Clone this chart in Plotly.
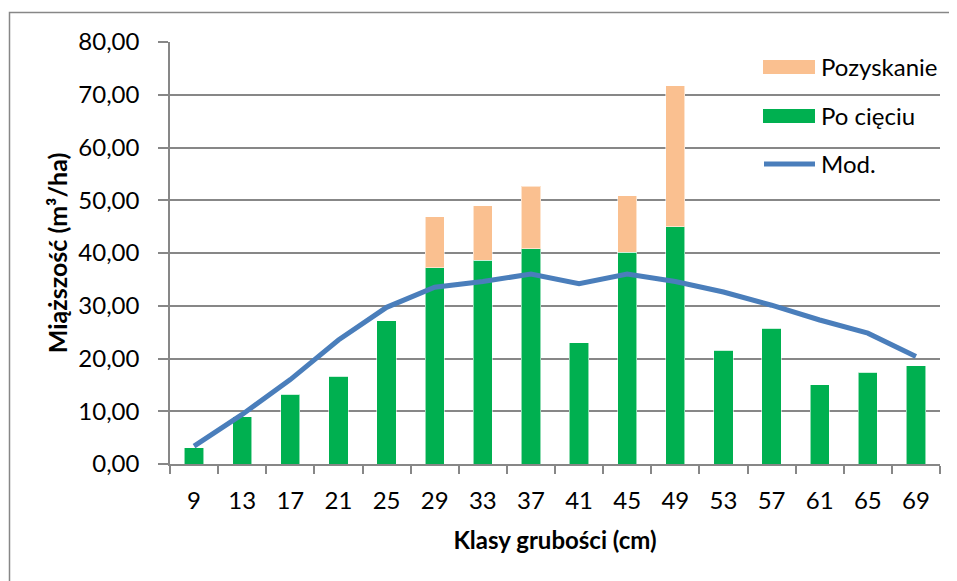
import plotly.graph_objects as go

categories = ["9", "13", "17", "21", "25", "29", "33", "37", "41", "45", "49", "53", "57", "61", "65", "69"]
po_cieciu = [3.07, 9.0, 13.25, 16.6, 27.2, 37.2, 38.6, 40.8, 23.0, 40.1, 45.0, 21.6, 25.7, 15.0, 17.4, 18.6]
pozyskanie = [0, 0, 0, 0, 0, 9.7, 10.4, 11.9, 0, 10.8, 26.7, 0, 0, 0, 0, 0]
mod = [3.4, 9.4, 16.0, 23.5, 29.7, 33.5, 34.6, 36.0, 34.2, 36.0, 34.6, 32.6, 30.1, 27.3, 24.8, 20.4]
y_ticks = [0, 10, 20, 30, 40, 50, 60, 70, 80]

names = ["Pozyskanie", "Po cięciu", "Mod."]
GREEN = "#00b050"
ORANGE = "#fac090"
BLUE = "#4a7ebb"
GRID = "#878787"
FONT = "Lato"

fig = go.Figure()
fig.add_bar(x=categories, y=po_cieciu, name=names[1], marker=dict(color=GREEN, line=dict(color="rgba(255,255,255,0.55)", width=1)), showlegend=False)
fig.add_bar(x=categories, y=pozyskanie, name=names[0], marker=dict(color=ORANGE, line=dict(color="rgba(255,255,255,0.55)", width=1)), showlegend=False)
fig.add_scatter(x=categories, y=mod, name=names[2], mode="lines", line=dict(color=BLUE, width=5), showlegend=False)

# page body has an 8px margin, so the figure is placed at (8, 8)
OFF = 8
W, H = 957 - OFF, 581 - OFF
L, R, T, B = 170 - OFF, 957 - 940, 42 - OFF, 581 - 464.3
pw, ph = W - L - R, H - T - B

def px(x):
    return (x - OFF - L) / pw

def py(y):
    return (H - B - (y - OFF)) / ph

shapes = [
    # outer chart border
    dict(type="rect", xref="paper", yref="paper", x0=px(9.5), x1=px(990), y0=py(12.5), y1=py(620),
         line=dict(color=GRID, width=1.5), fillcolor="rgba(0,0,0,0)", layer="below"),
    # legend swatches
    dict(type="rect", xref="paper", yref="paper", x0=px(763), x1=px(815), y0=py(74), y1=py(60),
         fillcolor=ORANGE, line=dict(width=0)),
    dict(type="rect", xref="paper", yref="paper", x0=px(763), x1=px(815), y0=py(123), y1=py(109),
         fillcolor=GREEN, line=dict(width=0)),
    dict(type="line", xref="paper", yref="paper", x0=px(764), x1=px(815), y0=py(164), y1=py(164),
         line=dict(color=BLUE, width=5)),
]
annotations = []
for name, yy in zip(names, [67, 116, 164]):
    annotations.append(dict(xref="paper", yref="paper", x=px(819), y=py(yy), text=name, showarrow=False,
                            xanchor="left", yanchor="middle", font=dict(family=FONT, size=24, color="black")))

fig.update_layout(
    width=W, height=H,
    margin=dict(l=L, r=R, t=T, b=B),
    barmode="stack",
    bargap=0.6,
    paper_bgcolor="white",
    plot_bgcolor="white",
    separators=", ",
    font=dict(family=FONT, size=24, color="black"),
    shapes=shapes,
    annotations=annotations,
    showlegend=False,
)
fig.update_xaxes(
    type="category",
    tickson="boundaries",
    ticks="outside", ticklen=8, tickwidth=1.5, tickcolor=GRID,
    showline=True, linecolor=GRID, linewidth=1.5,
    showgrid=False,
    ticklabelstandoff=14,
    tickfont=dict(family=FONT, size=24, color="black"),
    title=dict(text="<b>Klasy grubości (cm)</b>", font=dict(family=FONT, size=24, color="black"), standoff=20),
)
fig.update_yaxes(
    range=[0, 80],
    tickvals=y_ticks,
    tickformat=".2f",
    ticks="outside", ticklen=10, tickwidth=1.5, tickcolor=GRID,
    showline=True, linecolor=GRID, linewidth=1.5,
    showgrid=True, gridcolor=GRID, gridwidth=1.5,
    zeroline=False,
    ticklabelstandoff=14,
    tickfont=dict(family=FONT, size=24, color="black"),
    title=dict(text="<b>Miąższość (m³/ha)</b>", font=dict(family=FONT, size=25, color="black"), standoff=4),
)

fig.write_html("out.html")
